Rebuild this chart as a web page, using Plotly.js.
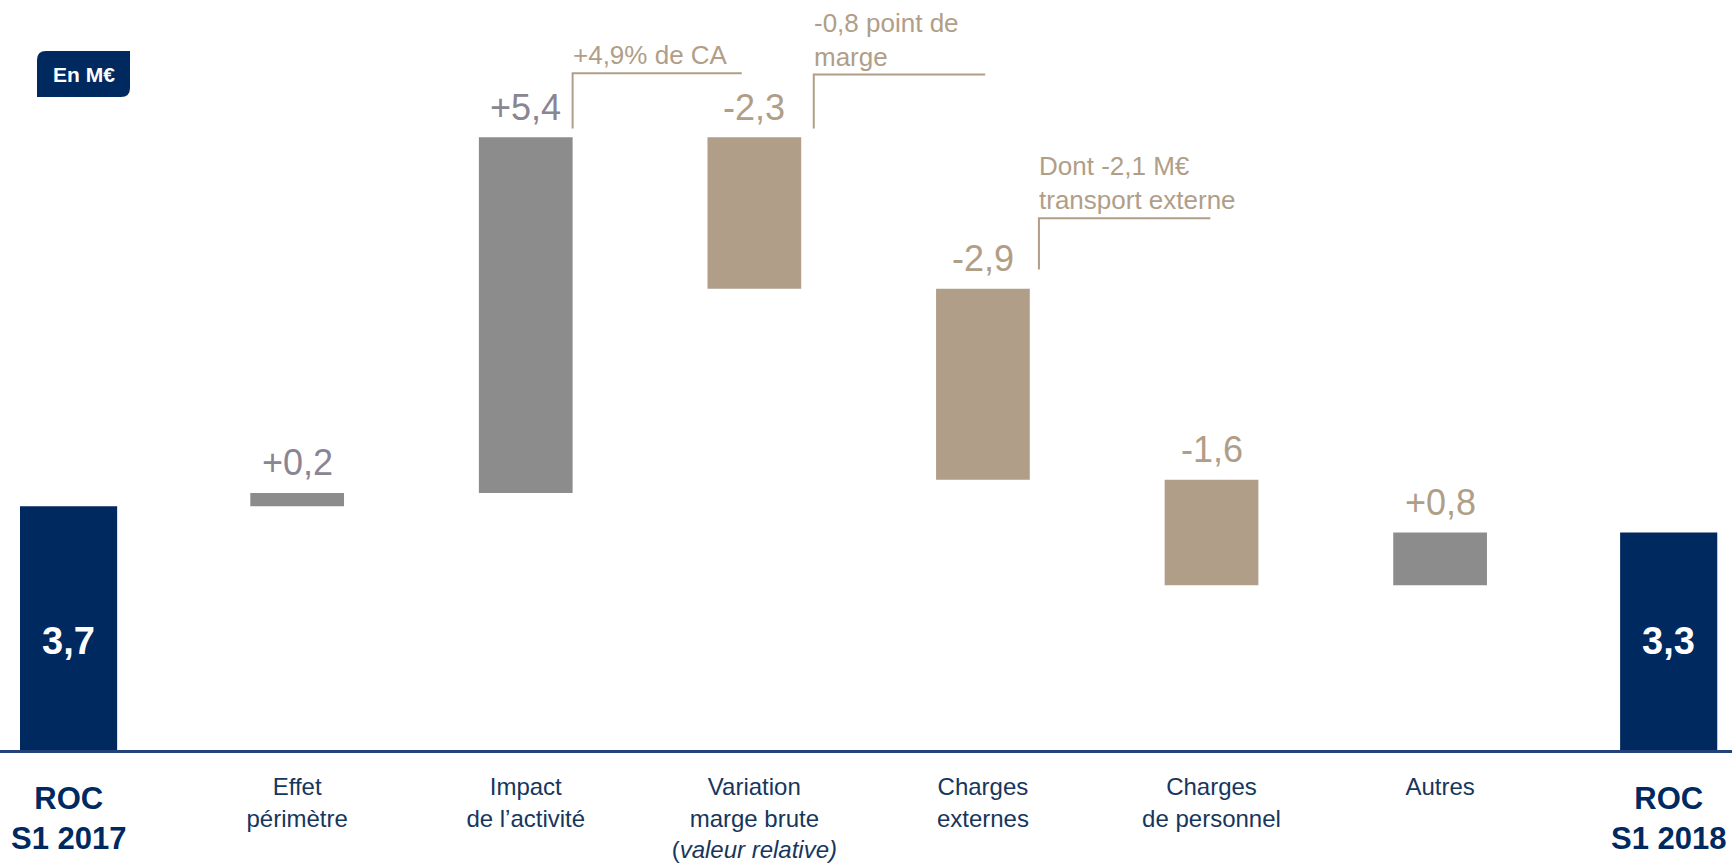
<!DOCTYPE html>
<html>
<head>
<meta charset="utf-8">
<script src="https://cdn.plot.ly/plotly-3.0.1.min.js"></script>
<style>
  html, body { margin: 0; padding: 0; background: #ffffff; }
  #chart { width: 1732px; height: 865px; }
</style>
</head>
<body>
<div id="chart"></div>
<script>
// ---- Data ----
const categories = [
  "ROC S1 2017", "Effet périmètre", "Impact de l’activité", "Variation marge brute",
  "Charges externes", "Charges de personnel", "Autres", "ROC S1 2018"
];
const tickLabels = [
  "ROC<br>S1 2017",
  "Effet<br>périmètre",
  "Impact<br>de l’activité",
  "Variation<br>marge brute<br>(<i>valeur relative)</i>",
  "Charges<br>externes",
  "Charges<br>de personnel",
  "Autres",
  "ROC<br>S1 2018"
];
const values   = [3.7, 0.2, 5.4, -2.3, -2.9, -1.6, 0.8, 3.3];
const measures = ["absolute", "relative", "relative", "relative", "relative", "relative", "relative", "total"];
const valueLabels = ["3,7", "+0,2", "+5,4", "-2,3", "-2,9", "-1,6", "+0,8", "3,3"];
const calloutCategories = ["Impact de l’activité", "Variation marge brute", "Charges externes"];
const calloutTexts = ["+4,9% de CA", "-0,8 point de<br>marge", "Dont -2,1 M€<br>transport externe"];

// ---- Styles ----
const NAVY = "#00295f";
const GREY = "#8c8c8c";
const BEIGE = "#b09e88";
const LABEL_GREY = "#8a8592";
const TICK_NAVY = "#17365d";
const FONT = "Liberation Sans, Arial, sans-serif";

// compute waterfall extents
let level = 0;
const tops = [], bottoms = [];
values.forEach((v, i) => {
  const m = measures[i];
  if (m === "absolute") { level = v; tops.push(v); bottoms.push(0); }
  else if (m === "relative") {
    const lo = Math.min(level, level + v), hi = Math.max(level, level + v);
    tops.push(hi); bottoms.push(lo); level += v;
  } else { tops.push(level); bottoms.push(0); }
});

const isTotal = measures.map(m => m !== "relative");
const labelColors = measures.map((m, i) => {
  if (m !== "relative") return "#ffffff";
  if (values[i] < 0) return BEIGE;
  return (categories[i] === "Autres") ? BEIGE : LABEL_GREY;
});

const totalTops = tops.filter((t, i) => isTotal[i]);
const insideY = Math.min(...totalTops) / 2;

const annotations = [];
categories.forEach((c, i) => {
  if (!isTotal[i]) {
    annotations.push({
      x: c, y: tops[i], xref: "x", yref: "y", text: valueLabels[i],
      showarrow: false, yanchor: "middle", yshift: 30,
      font: { family: FONT, size: 36, color: labelColors[i] }
    });
  } else {
    annotations.push({
      x: c, y: insideY, xref: "x", yref: "y", text: "<b>" + valueLabels[i] + "</b>",
      showarrow: false, yanchor: "middle",
      font: { family: FONT, size: 38, color: "#ffffff" }
    });
    // bold category label for the ROC bars (larger than the other axis labels)
    annotations.push({
      x: c, y: 0, xref: "x", yref: "y", text: "<b>" + tickLabels[i] + "</b>",
      showarrow: false, yanchor: "top", yshift: -29,
      font: { family: FONT, size: 31, color: NAVY }
    });
  }
});

// callouts (bracket lines + text) anchored to their bars
const calloutStyle = [
  { dx: 0.205, up: 0.13, h: 0.84, len: 0.74 },
  { dx: 0.26,  up: 0.13, h: 0.82, len: 0.75 },
  { dx: 0.245, up: 0.29, h: 0.78, len: 0.75 }
];
const shapes = [];
calloutCategories.forEach((c, k) => {
  const i = categories.indexOf(c);
  const s = calloutStyle[k];
  const x0 = i + s.dx, y0 = tops[i] + s.up, y1 = y0 + s.h;
  shapes.push({
    type: "path", xref: "x", yref: "y",
    path: `M ${x0} ${y0} L ${x0} ${y1} L ${x0 + s.len} ${y1}`,
    line: { color: BEIGE, width: 2 }
  });
  annotations.push({
    x: x0, y: y1, xref: "x", yref: "y", text: calloutTexts[k],
    showarrow: false, xanchor: "left", yanchor: "bottom", align: "left",
    xshift: -2, yshift: 1,
    font: { family: FONT, size: 26, color: BEIGE }
  });
});

// "En M€" badge
const bx0 = 37 / 1732, bx1 = 130 / 1732;
const byT = (750 - 51) / 730, byB = (750 - 97) / 730;
const rx = 9 / 1732, ry = 9 / 730;
shapes.push({
  type: "path", xref: "paper", yref: "paper",
  path: `M ${bx0} ${byB} L ${bx0} ${byT - ry} Q ${bx0} ${byT} ${bx0 + rx} ${byT} L ${bx1} ${byT} L ${bx1} ${byB + ry} Q ${bx1} ${byB} ${bx1 - rx} ${byB} Z`,
  fillcolor: NAVY, line: { width: 0 }
});
annotations.push({
  x: (bx0 + bx1) / 2, y: (byT + byB) / 2, xref: "paper", yref: "paper",
  xanchor: "center", yanchor: "middle",
  text: "<b>En M€</b>", showarrow: false,
  font: { family: FONT, size: 21, color: "#ffffff" }
});

const trace = {
  type: "waterfall",
  x: categories,
  y: values,
  measure: measures,
  width: categories.map((c, i) => isTotal[i] ? 0.425 : 0.41),
  increasing: { marker: { color: GREY } },
  decreasing: { marker: { color: BEIGE } },
  totals: { marker: { color: NAVY } },
  connector: { visible: false },
  textinfo: "none",
  hoverinfo: "skip"
};

const layout = {
  width: 1732, height: 865,
  margin: { l: 0, r: 0, t: 20, b: 115 },
  paper_bgcolor: "#ffffff", plot_bgcolor: "#ffffff",
  showlegend: false,
  xaxis: {
    type: "category",
    tickvals: categories,
    ticktext: tickLabels.map((t, i) => isTotal[i] ? "" : t),
    range: [-0.3, 7.277],
    showline: true, linecolor: "#23427a", linewidth: 2.5,
    ticks: "", ticklabelstandoff: 14,
    tickfont: { family: FONT, size: 24, color: TICK_NAVY },
    showgrid: false, zeroline: false, fixedrange: true
  },
  yaxis: {
    range: [0, 730 / 65.9],
    visible: false, showgrid: false, zeroline: false, fixedrange: true
  },
  annotations: annotations,
  shapes: shapes
};

Plotly.newPlot("chart", [trace], layout, { displayModeBar: false, staticPlot: true });
</script>
</body>
</html>
